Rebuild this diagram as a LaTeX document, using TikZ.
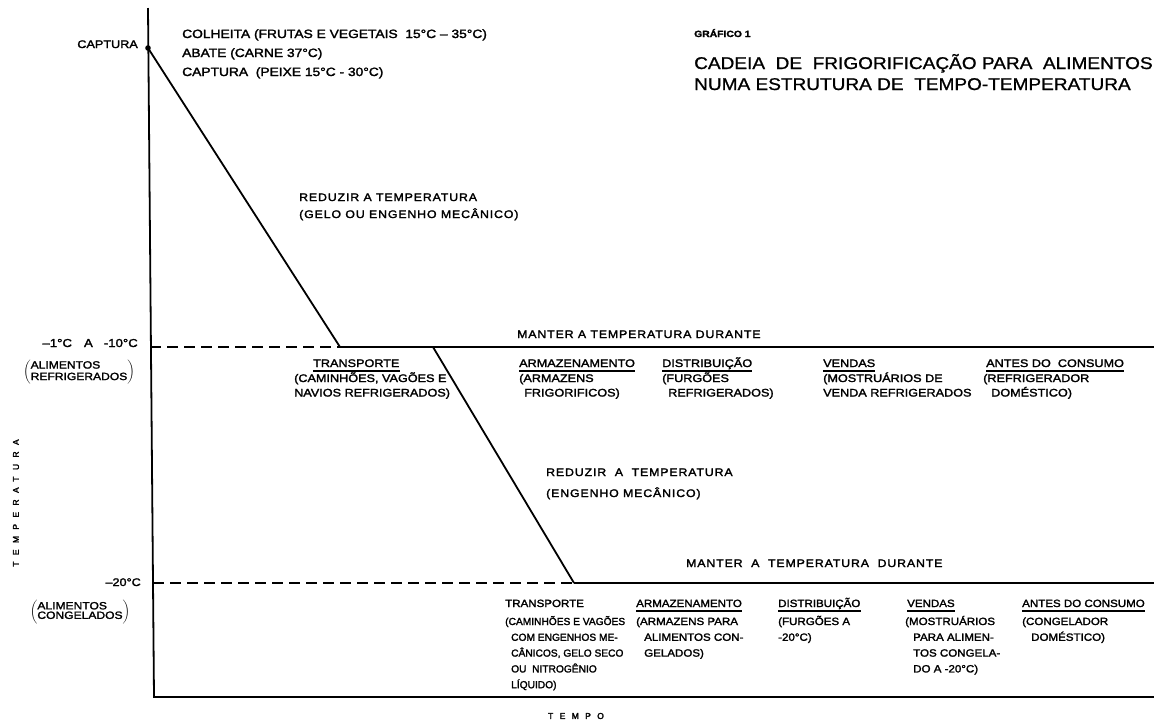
\documentclass[tikz,border=0pt]{standalone}
\usepackage{fontspec}
\setmainfont[FakeStretch=1.15,FakeBold=2]{Liberation Sans}
\newfontfamily\rowtwo[FakeStretch=1.1,FakeBold=2]{Liberation Sans}
\newfontfamily\narrow[FakeStretch=1.0,FakeBold=2]{Liberation Sans}
\newfontfamily\spaced[FakeStretch=1.12,FakeBold=2,LetterSpace=8]{Liberation Sans}
\newfontfamily\wide[LetterSpace=75,FakeBold=2.5]{Liberation Sans}
\newfontfamily\titlefont[FakeStretch=1.12,FakeBold=1]{Liberation Sans}
\begin{document}
\begin{tikzpicture}[x=1pt,y=-1pt,
  lbl/.style={anchor=base west, inner sep=0pt, font=\fontsize{11}{14.5}\selectfont},
  lblr/.style={anchor=base east, inner sep=0pt, font=\fontsize{11}{14.5}\selectfont},
  body/.style={anchor=base west, inner sep=0pt, font=\fontsize{11}{14.5}\selectfont},
  lbltwo/.style={anchor=base west, inner sep=0pt, font=\rowtwo\fontsize{10.5}{15.8}\selectfont},
  body2/.style={anchor=base west, inner sep=0pt, font=\rowtwo\fontsize{10.5}{15.8}\selectfont},
  title/.style={anchor=base west, inner sep=0pt, font=\titlefont\fontsize{17}{22}\selectfont},
  uline/.style={line width=1.3pt},
  curve/.style={line width=1.8pt},
  dashline/.style={line width=1.5pt, dash pattern=on 11pt off 6pt}]
\useasboundingbox (0,0) rectangle (1154,724);
% axes
\coordinate (ytop) at (148,8);
\coordinate (orig) at (154,697);
\coordinate (xend) at (1154,697);
\draw[curve] (ytop) -- (orig) -- (xend);
% levels
\coordinate (cap) at (148,48);
\coordinate (ra) at (150,347);
\coordinate (r1) at (340,347);
\coordinate (r2) at (433,347);
\coordinate (rend) at (1154,347);
\coordinate (fa) at (153,583);
\coordinate (f1) at (574,583);
\coordinate (fend) at (1154,583);
\fill (cap) circle (2.8);
\draw[curve] (cap) -- (r1);
\draw[dashline] (ra) -- (r1);
\draw[curve] (r1) -- (rend);
\draw[curve] (r2) -- (f1);
\draw[dashline] (fa) -- (f1);
\draw[curve] (f1) -- (fend);
% top labels
\node[lblr] (captura) at (138,48) {CAPTURA};
\node[lbl, font=\fontsize{12}{15}\selectfont] (colheita) at (182,38) {COLHEITA (FRUTAS E VEGETAIS \ 15°C – 35°C)};
\node[lbl, font=\fontsize{12}{15}\selectfont] (abate) at (182,57) {ABATE (CARNE 37°C)};
\node[lbl, font=\fontsize{12}{15}\selectfont] (peixe) at (182,76) {CAPTURA \ (PEIXE 15°C - 30°C)};
\node[anchor=base west, inner sep=0pt, font=\bfseries\fontsize{9}{11}\selectfont] (graf) at (694,37) {GRÁFICO 1};
\node[title] (t1) at (694,69) {CADEIA \ DE \ FRIGORIFICAÇÃO PARA \ ALIMENTOS};
\node[title] (t2) at (694,90) {NUMA ESTRUTURA DE \ TEMPO-TEMPERATURA};
\node[lbl] (red1) at (299,201) {\spaced REDUZIR A TEMPERATURA};
\node[lbl] (red1b) at (299,218) {\spaced (GELO OU ENGENHO MECÂNICO)};
\node[lbl] (man1) at (517,338) {\spaced MANTER A TEMPERATURA DURANTE};
\node[lblr, font=\fontsize{11.5}{14}\selectfont] (lv1) at (138,347) {–1°C\hspace{12pt}A\hspace{11pt}-10°C};
\node[inner sep=0pt, font=\fontsize{10.5}{11.5}\selectfont] (ar) at (79,372) {$\left(\begin{tabular}{@{}l@{}}ALIMENTOS\\REFRIGERADOS\end{tabular}\right)$};
\node[lbl] (red2) at (546,476) {\spaced REDUZIR \ A \ TEMPERATURA};
\node[lbl] (red2b) at (546,497) {\spaced (ENGENHO MECÂNICO)};
\node[lbl] (man2) at (686,567) {\spaced MANTER \ A \ TEMPERATURA \ DURANTE};
\node[lblr] (lv2) at (141,586) {–20°C};
\node[inner sep=0pt, font=\fontsize{10.5}{10.5}\selectfont] (ac) at (80,612) {$\left(\begin{tabular}{@{}l@{}}ALIMENTOS\\[-1pt]CONGELADOS\end{tabular}\right)$};
\node[rotate=90, inner sep=0pt, font=\fontsize{8.5}{10}\selectfont] (temp) at (16,503) {\wide TEMPERATURA};
\node[inner sep=0pt, font=\fontsize{8.5}{10}\selectfont] (tempo) at (576,716) {\wide TEMPO};
% row 1
\node[lbl] (h11) at (313,367) {TRANSPORTE};
\node[lbl] (h12) at (519,367) {ARMAZENAMENTO};
\node[lbl] (h13) at (662,367) {DISTRIBUIÇÃO};
\node[lbl] (h14) at (823,367) {VENDAS};
\node[lbl] (h15) at (986,367) {ANTES DO \ CONSUMO};
\foreach \h in {h11,h12,h13,h14,h15}
  \draw[uline] ([yshift=-4pt]\h.base west) -- ([yshift=-4pt]\h.base east);
\node[body] (b11) at (294,382) {\begin{tabular}[t]{@{}l@{}}(CAMINHÕES, VAGÕES E\\NAVIOS REFRIGERADOS)\end{tabular}};
\node[body] (b12) at (519,382) {\begin{tabular}[t]{@{}l@{}}(ARMAZENS\\\hspace{5pt}FRIGORIFICOS)\end{tabular}};
\node[body] (b13) at (662,382) {\begin{tabular}[t]{@{}l@{}}(FURGÕES\\\hspace{6pt}REFRIGERADOS)\end{tabular}};
\node[body] (b14) at (823,382) {\begin{tabular}[t]{@{}l@{}}(MOSTRUÁRIOS DE\\VENDA REFRIGERADOS\end{tabular}};
\node[body] (b15) at (983,382) {\begin{tabular}[t]{@{}l@{}}(REFRIGERADOR\\\hspace{8pt}DOMÉSTICO)\end{tabular}};
% row 2
\node[lbltwo] (h21) at (505,607) {TRANSPORTE};
\node[lbltwo] (h22) at (636,607) {ARMAZENAMENTO};
\node[lbltwo] (h23) at (778,607) {DISTRIBUIÇÃO};
\node[lbltwo] (h24) at (907,607) {VENDAS};
\node[lbltwo] (h25) at (1022,607) {ANTES DO CONSUMO};
\foreach \h in {h22,h23,h24,h25}
  \draw[uline] ([yshift=-4pt]\h.base west) -- ([yshift=-4pt]\h.base east);
\node[body2, font=\narrow\fontsize{10.2}{15.8}\selectfont] (b21) at (505,625) {\begin{tabular}[t]{@{}l@{}}(CAMINHÕES E VAGÕES\\\hspace{6pt}COM ENGENHOS ME-\\\hspace{6pt}CÂNICOS, GELO SECO\\\hspace{6pt}OU \ NITROGÊNIO\\\hspace{6pt}LÍQUIDO)\end{tabular}};
\node[body2] (b22) at (636,625) {\begin{tabular}[t]{@{}l@{}}(ARMAZENS PARA\\\hspace{8pt}ALIMENTOS CON-\\\hspace{8pt}GELADOS)\end{tabular}};
\node[body2] (b23) at (778,625) {\begin{tabular}[t]{@{}l@{}}(FURGÕES A\\-20°C)\end{tabular}};
\node[body2] (b24) at (905,625) {\begin{tabular}[t]{@{}l@{}}(MOSTRUÁRIOS\\\hspace{8pt}PARA ALIMEN-\\\hspace{8pt}TOS CONGELA-\\\hspace{8pt}DO A -20°C)\end{tabular}};
\node[body2] (b25) at (1022,625) {\begin{tabular}[t]{@{}l@{}}(CONGELADOR\\\hspace{9pt}DOMÉSTICO)\end{tabular}};
\end{tikzpicture}
\end{document}
